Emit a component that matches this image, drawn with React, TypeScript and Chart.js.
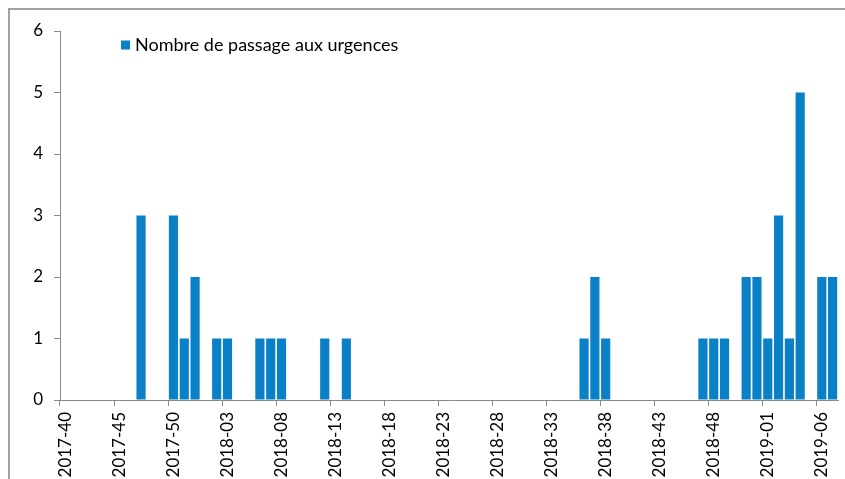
import React, { useEffect, useRef } from "react";
import { Chart, registerables } from "chart.js";

Chart.register(...registerables);

const weekLabels: string[] = [
  "2017-40", "2017-41", "2017-42", "2017-43", "2017-44", "2017-45", "2017-46", "2017-47", "2017-48", "2017-49",
  "2017-50", "2017-51", "2017-52",
  "2018-01", "2018-02", "2018-03", "2018-04", "2018-05", "2018-06", "2018-07", "2018-08", "2018-09", "2018-10",
  "2018-11", "2018-12", "2018-13", "2018-14", "2018-15", "2018-16", "2018-17", "2018-18", "2018-19", "2018-20",
  "2018-21", "2018-22", "2018-23", "2018-24", "2018-25", "2018-26", "2018-27", "2018-28", "2018-29", "2018-30",
  "2018-31", "2018-32", "2018-33", "2018-34", "2018-35", "2018-36", "2018-37", "2018-38", "2018-39", "2018-40",
  "2018-41", "2018-42", "2018-43", "2018-44", "2018-45", "2018-46", "2018-47", "2018-48", "2018-49", "2018-50",
  "2018-51", "2018-52",
  "2019-01", "2019-02", "2019-03", "2019-04", "2019-05", "2019-06", "2019-07",
];

const passages: number[] = [
  0, 0, 0, 0, 0, 0, 0, 3, 0, 0,
  3, 1, 2,
  0, 1, 1, 0, 0, 1, 1, 1, 0, 0,
  0, 1, 0, 1, 0, 0, 0, 0, 0, 0,
  0, 0, 0, 0, 0, 0, 0, 0, 0, 0,
  0, 0, 0, 0, 0, 1, 2, 1, 0, 0,
  0, 0, 0, 0, 0, 0, 1, 1, 1, 0,
  2, 2,
  1, 3, 1, 5, 0, 2, 2,
];

const seriesName = "Nombre de passage aux urgences";
const yTicks: number[] = [0, 1, 2, 3, 4, 5, 6];

const BAR_COLOR = "#0a80c6";
const AXIS_COLOR = "#8a8a8a";
const FONT = "Lato";

const legendPlugin = {
  id: "fixedLegend",
  afterDraw(chart: any) {
    const ctx = chart.ctx;
    const area = chart.chartArea;
    const x0 = area.left + 61;
    const y0 = area.top + 14;
    ctx.save();
    ctx.fillStyle = BAR_COLOR;
    ctx.fillRect(x0, y0 - 4.5, 9, 9);
    ctx.fillStyle = "#000";
    ctx.font = `18px ${FONT}`;
    ctx.textBaseline = "middle";
    ctx.textAlign = "left";
    ctx.fillText(seriesName, x0 + 14, y0);
    ctx.restore();
  },
};

export default function App() {
  const canvasRef = useRef<HTMLCanvasElement | null>(null);

  useEffect(() => {
    document.body.style.margin = "0";
    const canvas = canvasRef.current;
    if (!canvas) return;
    const chart = new Chart(canvas, {
      type: "bar",
      data: {
        labels: weekLabels,
        datasets: [
          {
            label: seriesName,
            data: passages,
            backgroundColor: BAR_COLOR,
            borderWidth: 0,
            barPercentage: 0.85,
            categoryPercentage: 1,
          },
        ],
      },
      options: {
        animation: false,
        responsive: false,
        maintainAspectRatio: false,
        layout: { padding: { left: 0, right: 7, top: 31, bottom: 0 } },
        plugins: {
          legend: { display: false },
          tooltip: { enabled: false },
        },
        scales: {
          x: {
            type: "category",
            offset: true,
            afterFit: (scale: any) => {
              scale.height = 79;
              scale.paddingLeft = 0;
              scale.paddingRight = 0;
            },
            grid: {
              offset: true,
              drawOnChartArea: false,
              drawTicks: true,
              tickLength: 6,
              color: (ctx: any) =>
                typeof ctx.index === "number" && ctx.index % 5 === 0 ? AXIS_COLOR : "rgba(0,0,0,0)",
            },
            border: { display: true, color: AXIS_COLOR, width: 1 },
            ticks: {
              autoSkip: false,
              maxRotation: 90,
              minRotation: 90,
              padding: 6,
              color: "#000",
              font: { family: FONT, size: 17 },
              callback: (_v: any, idx: number) => (idx % 5 === 0 ? weekLabels[idx] : ""),
            },
          },
          y: {
            min: yTicks[0],
            max: yTicks[yTicks.length - 1],
            afterFit: (scale: any) => {
              scale.width = 60;
            },
            grid: {
              drawOnChartArea: false,
              drawTicks: true,
              tickLength: 6,
              color: AXIS_COLOR,
            },
            border: { display: true, color: AXIS_COLOR, width: 1 },
            ticks: {
              stepSize: 1,
              padding: 11,
              color: "#000",
              font: { family: FONT, size: 17 },
            },
          },
        },
      },
      plugins: [legendPlugin],
    });
    return () => chart.destroy();
  }, []);

  return (
    <div style={{ position: "relative", width: 845, height: 479, overflow: "hidden", background: "#fff" }}>
      <div
        style={{
          position: "absolute",
          left: 8,
          top: 8,
          width: 900,
          height: 520,
          borderLeft: "2px solid #a3a3a3",
          borderTop: "2px solid #a3a3a3",
          boxSizing: "border-box",
        }}
      />
      <canvas ref={canvasRef} width={845} height={479} style={{ position: "absolute", left: 0, top: 0 }} />
    </div>
  );
}
